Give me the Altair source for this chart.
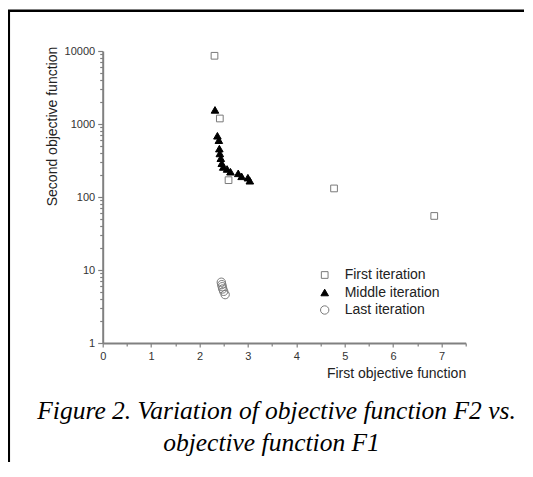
import altair as alt
import pandas as pd

# ---- data ----
series = ["First iteration", "Middle iteration", "Last iteration"]

first_x = [2.31, 2.42, 2.60, 4.78, 6.85]
first_y = [8600, 1190, 170, 131, 55]

middle_x = [2.32, 2.37, 2.40, 2.41, 2.42, 2.44, 2.46, 2.49, 2.57, 2.64, 2.80, 2.87, 3.00, 3.04]
middle_y = [1560, 690, 600, 460, 395, 340, 290, 258, 242, 222, 211, 192, 184, 167]

last_x = [2.45, 2.46, 2.47, 2.48, 2.50, 2.53]
last_y = [6.8, 6.3, 5.9, 5.5, 5.1, 4.6]

x_ticks = [0, 0.5, 1, 1.5, 2, 2.5, 3, 3.5, 4, 4.5, 5, 5.5, 6, 6.5, 7, 7.5]
y_ticks = [m * 10 ** e for e in range(4) for m in range(1, 10)] + [10000]

caption_lines = ["Figure 2. Variation of objective function F2 vs.",
                 "objective function F1"]

rows = []
for name, xs, ys in [(series[0], first_x, first_y),
                     (series[1], middle_x, middle_y),
                     (series[2], last_x, last_y)]:
    for a, b in zip(xs, ys):
        rows.append({"x": a, "y": b, "series": name})
df = pd.DataFrame(rows)

W, H = 363, 292
PL, PT = 94.7, 43
TOTAL_W, TOTAL_H = 516, 454

legend = alt.Legend(title=None, orient="none", legendX=215, legendY=217,
                    labelFont="Liberation Sans", labelFontSize=14, labelColor="#222",
                    rowPadding=3.5, labelOffset=13, padding=0, symbolStrokeWidth=1)

major_y = "indexof([1,10,100,1000,10000], datum.value) >= 0"

points = alt.Chart(df).mark_point(opacity=1, strokeWidth=1).encode(
    x=alt.X("x:Q", scale=alt.Scale(domain=[0, 7.5], nice=False, zero=False),
            axis=alt.Axis(values=x_ticks,
                          labelExpr="datum.value % 1 == 0 ? format(datum.value, 'd') : ''",
                          tickSize={"condition": {"test": "datum.value % 1 == 0", "value": 4}, "value": 3},
                          title="First objective function",
                          titleX=W, titleY=30, titleAlign="right", titleBaseline="middle",
                          titleAngle=0)),
    y=alt.Y("y:Q", scale=alt.Scale(type="log", domain=[1, 10000], nice=False),
            axis=alt.Axis(values=y_ticks,
                          labelExpr=major_y + " ? format(datum.value, 'd') : ''",
                          tickSize={"condition": {"test": major_y, "value": 5}, "value": 3},
                          title="Second objective function",
                          titleX=-50, titleY=75, titleAlign="center", titleBaseline="middle",
                          titleAngle=270)),
    shape=alt.Shape("series:N", scale=alt.Scale(domain=series, range=["square", "triangle-up", "circle"]),
                    legend=legend),
    stroke=alt.Stroke("series:N", scale=alt.Scale(domain=series, range=["#7a7a7a", "#000000", "#7a7a7a"]),
                      legend=legend),
    fill=alt.Fill("series:N", scale=alt.Scale(domain=series, range=["transparent", "#000000", "transparent"]),
                  legend=legend),
    size=alt.Size("series:N", scale=alt.Scale(domain=series, range=[45, 70, 50]), legend=legend),
)

one = alt.Data(values=[{}])

left_line = alt.Chart(one).mark_rule(color="black", strokeWidth=2.5, strokeCap="butt").encode(
    x=alt.value(8.8 - 102.7), y=alt.value(10 - 51), y2=alt.value(TOTAL_H - PT))
top_line = alt.Chart(one).mark_rule(color="black", strokeWidth=2.5, strokeCap="butt").encode(
    x=alt.value(8 - 102.7), x2=alt.value(TOTAL_W - PL + 20), y=alt.value(10.8 - 51))

cap1 = alt.Chart(one).mark_text(font="Liberation Serif", fontStyle="italic", fontSize=25.5,
                                color="black", align="center", baseline="middle").encode(
    x=alt.value(276.5 - 102.7), y=alt.value(411 - 51), text=alt.value(caption_lines[0]))
cap2 = alt.Chart(one).mark_text(font="Liberation Serif", fontStyle="italic", fontSize=25.5,
                                color="black", align="center", baseline="middle").encode(
    x=alt.value(271.5 - 102.7), y=alt.value(443 - 51), text=alt.value(caption_lines[1]))

chart = alt.layer(points, left_line, top_line, cap1, cap2).properties(
    width=W, height=H,
    autosize=alt.AutoSizeParams(type="none"),
    padding={"left": PL, "top": PT, "right": TOTAL_W - PL - W, "bottom": TOTAL_H - PT - H},
    background="white",
).configure_view(stroke=None).configure_axis(
    grid=False,
    domainColor="#808080", domainWidth=2,
    tickColor="#808080", tickWidth=1.2,
    labelFont="Liberation Sans", labelFontSize=11, labelColor="#333",
    labelPadding=3, labelOverlap=False, labelFlush=False,
    titleFont="Liberation Sans", titleFontSize=14, titleFontWeight="normal", titleColor="#222",
)

chart.save("out.html", embed_options={"renderer": "svg", "actions": False})
